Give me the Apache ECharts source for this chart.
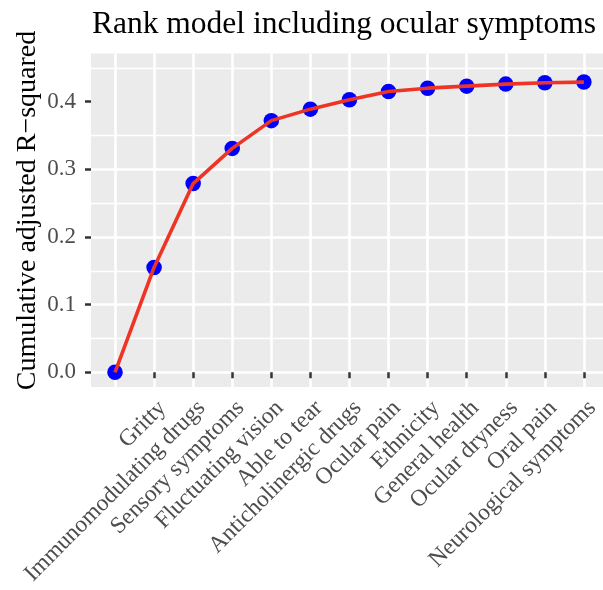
<!DOCTYPE html>
<html>
<head>
<meta charset="utf-8">
<script src="https://cdn.jsdelivr.net/npm/echarts@6/dist/echarts.min.js"></script>
<style>
html,body{margin:0;padding:0;background:#fff;}
#chart{width:603px;height:590px;}
</style>
</head>
<body>
<div id="chart"></div>
<script>
const titleText = 'Rank model including ocular symptoms';
const yTitle = 'Cumulative adjusted R\u2212squared';
const categories = ['', 'Gritty', 'Immunomodulating drugs', 'Sensory symptoms', 'Fluctuating vision', 'Able to tear', 'Anticholinergic drugs', 'Ocular pain', 'Ethnicity', 'General health', 'Ocular dryness', 'Oral pain', 'Neurological symptoms'];
const r2Values = [0, 0.155, 0.279, 0.331, 0.372, 0.389, 0.403, 0.415, 0.420, 0.423, 0.426, 0.428, 0.429];
const yTicks = [0, 0.1, 0.2, 0.3, 0.4];

const FONT = '"Liberation Serif", "Times New Roman", serif';
const chart = echarts.init(document.getElementById('chart'), null, {renderer:'canvas'});

const option = {
  backgroundColor:'#ffffff',
  animation:false,
  title:{
    text:titleText, left:92, top:9, padding:0,
    textStyle:{fontFamily:FONT, fontSize:31.5, fontWeight:'normal', color:'#000'}
  },
  grid:[
    {left:91, right:-10, top:53.5, bottom:203, show:true, backgroundColor:'#EBEBEB', borderWidth:0, containLabel:false},
    {left:91, right:-10, top:34.05, bottom:217.7, containLabel:false},
    {left:115, right:16.7, top:53.5, bottom:203, containLabel:false},
    {left:91, right:-10, top:33, bottom:202, containLabel:false}
  ],
  xAxis:[
    {gridIndex:0, type:'value', show:false},
    {gridIndex:1, type:'value', show:false},
    {gridIndex:2, type:'category', data:categories, boundaryGap:false,
     axisLine:{show:false},
     axisTick:{show:true, length:6, lineStyle:{color:'#333333', width:2.5}},
     axisLabel:{interval:0, rotate:45, margin:9, verticalAlign:'top', fontFamily:FONT, fontSize:23.5, color:'#4D4D4D'},
     splitLine:{show:true, lineStyle:{color:'#ffffff', width:2.6}}
    },
    {gridIndex:3, type:'value', show:false}
  ],
  yAxis:[
    {gridIndex:0, type:'value', show:false},
    {gridIndex:1, type:'value', min:0, max:0.5, interval:0.1,
     axisLine:{show:false},
     axisTick:{show:true, length:6, lineStyle:{color:'#333333', width:2.5}, customValues:yTicks},
     axisLabel:{show:true, margin:15, customValues:yTicks, fontFamily:FONT, fontSize:23, color:'#4D4D4D',
       formatter:function(v){ return v.toFixed(1); }},
     splitLine:{show:true, showMaxLine:false, lineStyle:{color:'#ffffff', width:2.6}},
     minorTick:{show:false, splitNumber:2},
     minorSplitLine:{show:true, lineStyle:{color:'#ffffff', width:1.3}}
    },
    {gridIndex:2, type:'value', min:-0.02173, max:0.47125, show:false},
    {gridIndex:3, type:'value', show:true, name:yTitle, nameLocation:'middle', nameRotate:90, nameGap:49,
     nameTextStyle:{fontFamily:FONT, fontSize:28, color:'#000'},
     axisLine:{show:false}, axisTick:{show:false}, axisLabel:{show:false}, splitLine:{show:false}}
  ],
  series:[
    {type:'scatter', xAxisIndex:2, yAxisIndex:2, data:r2Values, symbol:'circle', symbolSize:15.5,
     itemStyle:{color:'#0000FF', opacity:1}, z:3},
    {type:'line', xAxisIndex:2, yAxisIndex:2, data:r2Values, showSymbol:false, symbol:'none',
     lineStyle:{color:'#EE3424', width:3.6}, z:4}
  ]
};
chart.setOption(option);
</script>
</body>
</html>
